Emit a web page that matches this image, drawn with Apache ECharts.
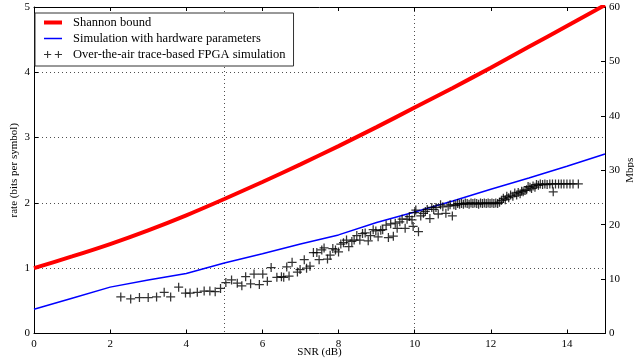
<!DOCTYPE html>
<html>
<head>
<meta charset="utf-8">
<script src="https://cdn.jsdelivr.net/npm/echarts@6/dist/echarts.min.js"></script>
<style>
  html, body { margin: 0; padding: 0; background: #fff; }
  #chart { width: 634px; height: 362px; }
</style>
</head>
<body>
<div id="chart"></div>
<script>
// SNR sample points (dB) for the two model curves
var snrGrid = [0, 1, 2, 3, 4, 5, 6, 7, 8, 9, 10, 11, 12, 13, 14, 15];

// Shannon bound, bits per symbol
var shannonRate = [1.00, 1.18, 1.37, 1.58, 1.81, 2.06, 2.32, 2.59, 2.87, 3.16, 3.46, 3.76, 4.07, 4.39, 4.71, 5.03];

// Simulation with hardware parameters, bits per symbol
var hardwareRate = [0.37, 0.54, 0.71, 0.82, 0.92, 1.08, 1.22, 1.37, 1.51, 1.70, 1.86, 2.03, 2.21, 2.38, 2.56, 2.75];

// Over-the-air trace-based FPGA simulation: SNR (dB) and rate per trace
var traceSnr = [
  2.28, 2.54, 2.77, 3.00, 3.22, 3.42, 3.59, 3.80, 3.98, 4.10, 4.29, 4.47, 4.62, 4.76, 4.90,
  5.04, 5.19, 5.34, 5.46, 5.56, 5.69, 5.78, 5.92, 6.01, 6.13, 6.23, 6.38, 6.50, 6.56, 6.64,
  6.70, 6.78, 6.92, 6.99, 7.10, 7.16, 7.25, 7.34, 7.43, 7.49, 7.56, 7.62, 7.71, 7.78, 7.85,
  7.92, 8.00, 8.06, 8.13, 8.21, 8.27, 8.35, 8.41, 8.48, 8.56, 8.63, 8.70, 8.78, 8.84, 8.91,
  8.98, 9.04, 9.11, 9.16, 9.25, 9.31, 9.37, 9.44, 9.49, 9.54, 9.61, 9.67, 9.75, 9.80, 9.86,
  9.93, 9.96, 10.00, 10.03, 10.10, 10.16, 10.23, 10.28, 10.33, 10.40, 10.45, 10.50, 10.56, 10.62, 10.68,
  10.74, 10.82, 10.88, 10.93, 10.99, 11.03, 11.08, 11.13, 11.18, 11.23, 11.28, 11.33, 11.38, 11.43, 11.48,
  11.53, 11.58, 11.63, 11.68, 11.73, 11.78, 11.83, 11.88, 11.93, 11.98, 12.03, 12.08, 12.13, 12.18, 12.23,
  12.28, 12.33, 12.38, 12.42, 12.47, 12.52, 12.58, 12.63, 12.68, 12.72, 12.77, 12.81, 12.85, 12.90, 12.94,
  12.98, 13.03, 13.07, 13.11, 13.16, 13.20, 13.25, 13.30, 13.36, 13.42, 13.48, 13.55, 13.62, 13.64, 13.70,
  13.78, 13.85, 13.92, 14.00, 14.08, 14.16, 14.30
];
var traceRate = [
  0.56, 0.53, 0.55, 0.55, 0.56, 0.63, 0.56, 0.71, 0.62, 0.62, 0.63, 0.65, 0.65, 0.64, 0.69,
  0.78, 0.82, 0.77, 0.73, 0.87, 0.76, 0.91, 0.75, 0.91, 0.80, 1.01, 0.86, 0.87, 0.86, 1.02,
  0.88, 1.09, 0.94, 0.98, 1.13, 1.00, 1.03, 1.24, 1.24, 1.13, 1.28, 1.31, 1.14, 1.20, 1.30,
  1.28, 1.25, 1.37, 1.39, 1.43, 1.33, 1.41, 1.43, 1.50, 1.43, 1.53, 1.54, 1.42, 1.50, 1.59,
  1.57, 1.48, 1.58, 1.59, 1.66, 1.47, 1.68, 1.49, 1.69, 1.61, 1.71, 1.75, 1.61, 1.75, 1.79,
  1.74, 1.64, 1.85, 1.89, 1.56, 1.80, 1.84, 1.87, 1.90, 1.76, 1.93, 1.90, 1.93, 1.83, 1.97,
  1.94, 1.84, 1.95, 1.97, 1.80, 1.97, 1.96, 1.99, 1.98, 1.99, 1.98, 2.00, 1.99, 1.98, 2.00,
  1.99, 2.00, 1.99, 1.98, 2.00, 1.99, 2.00, 1.99, 2.00, 1.99, 2.00, 1.99, 2.00, 1.99, 2.01,
  2.04, 2.07, 2.05, 2.10, 2.08, 2.12, 2.10, 2.15, 2.12, 2.16, 2.14, 2.18, 2.17, 2.19, 2.20,
  2.25, 2.24, 2.22, 2.26, 2.24, 2.28, 2.27, 2.29, 2.28, 2.29, 2.28, 2.29, 2.29, 2.17, 2.29,
  2.29, 2.29, 2.29, 2.29, 2.29, 2.29, 2.29
];

var FONT = 'Liberation Serif';
var plusPath = 'path://M4,0h1.3v4h4v1.3h-4v4h-1.3v-4h-4v-1.3h4z';
var twoPlusPath = 'path://M3.4,0h1.2v3.4h3.4v1.2h-3.4v3.4h-1.2v-3.4h-3.4v-1.2h3.4z M15.4,0h1.2v3.4h3.4v1.2h-3.4v3.4h-1.2v-3.4h-3.4v-1.2h3.4z';
var thickBarPath = 'path://M0,0h18v4h-18z';
var thinBarPath = 'path://M0,0h18v1.5h-18z';

function zip(a, b) {
  var out = [];
  for (var i = 0; i < a.length; i++) out.push([a[i], b[i]]);
  return out;
}

var chart = echarts.init(document.getElementById('chart'), null, { renderer: 'canvas' });
var axisText = { fontFamily: FONT, fontSize: 11, color: '#000' };
var dotted = { color: '#222', width: 0.8, type: [1, 3] };
var frameLine = { onZero: false, lineStyle: { color: '#000', width: 1 } };
var inTick = { inside: true, length: 4, lineStyle: { color: '#000' } };

chart.setOption({
  animation: false,
  backgroundColor: '#fff',
  grid: { left: 34, right: 29, top: 7, bottom: 28.5, containLabel: false, outerBoundsMode: 'none' },
  legend: {
    orient: 'vertical',
    left: 35,
    top: 13,
    padding: [3, 8, 5, 9],
    itemGap: 3,
    itemWidth: 18,
    itemHeight: 10,
    borderColor: '#333',
    borderWidth: 1,
    borderRadius: 0,
    backgroundColor: '#fff',
    textStyle: { fontFamily: FONT, fontSize: 12.5, color: '#000', lineHeight: 12, padding: [0, 0, 0, 6] },
    data: [
      { name: 'Shannon bound', icon: thickBarPath, itemStyle: { color: '#ff0000' } },
      { name: 'Simulation with hardware parameters', icon: thinBarPath, itemStyle: { color: '#0000ff' } },
      { name: 'Over-the-air trace-based FPGA simulation', icon: twoPlusPath, itemStyle: { color: '#000' } }
    ]
  },
  xAxis: [
    {
      type: 'value', position: 'bottom', min: 0, max: 15, interval: 2,
      name: 'SNR (dB)', nameLocation: 'middle', nameGap: 13, nameMoveOverlap: false,
      nameTextStyle: axisText,
      axisLine: frameLine,
      axisTick: inTick,
      axisLabel: Object.assign({
        margin: 5,
        formatter: function (v) { return v > 14 ? '' : String(v); }
      }, axisText),
      splitLine: { show: false }
    },
    {
      type: 'value', position: 'top', min: 0, max: 15, interval: 2,
      axisLine: frameLine,
      axisTick: inTick,
      axisLabel: { show: false },
      splitLine: { show: false }
    },
    {
      type: 'value', position: 'bottom', min: 0, max: 15, interval: 5,
      axisLine: { show: false }, axisTick: { show: false }, axisLabel: { show: false },
      splitLine: { show: true, lineStyle: dotted }
    }
  ],
  yAxis: [
    {
      type: 'value', position: 'left', min: 0, max: 5, interval: 1,
      name: 'rate (bits per symbol)', nameLocation: 'middle', nameGap: 14, nameMoveOverlap: false,
      nameTextStyle: axisText,
      axisLine: frameLine,
      axisTick: inTick,
      axisLabel: Object.assign({ margin: 4 }, axisText),
      splitLine: { show: true, lineStyle: dotted }
    },
    {
      type: 'value', position: 'right', min: 0, max: 60, interval: 10,
      name: 'Mbps', nameLocation: 'middle', nameGap: 20, nameRotate: 90, nameMoveOverlap: false,
      nameTextStyle: axisText,
      axisLine: frameLine,
      axisTick: inTick,
      axisLabel: Object.assign({ margin: 4 }, axisText),
      splitLine: { show: false }
    }
  ],
  series: [
    {
      name: 'Simulation with hardware parameters', type: 'line',
      xAxisIndex: 0, yAxisIndex: 0,
      data: zip(snrGrid, hardwareRate),
      showSymbol: false, symbol: 'none',
      lineStyle: { color: '#0000ff', width: 1.5 },
      itemStyle: { color: '#0000ff' },
      z: 3
    },
    {
      name: 'Shannon bound', type: 'line',
      xAxisIndex: 0, yAxisIndex: 0,
      data: zip(snrGrid, shannonRate),
      smooth: 0.2,
      showSymbol: false, symbol: 'none',
      lineStyle: { color: '#ff0000', width: 4 },
      itemStyle: { color: '#ff0000' },
      z: 4
    },
    {
      name: 'Over-the-air trace-based FPGA simulation', type: 'scatter',
      xAxisIndex: 0, yAxisIndex: 0,
      data: zip(traceSnr, traceRate),
      symbol: plusPath, symbolSize: 9,
      itemStyle: { color: '#000' },
      z: 5
    }
  ]
});
</script>
</body>
</html>
